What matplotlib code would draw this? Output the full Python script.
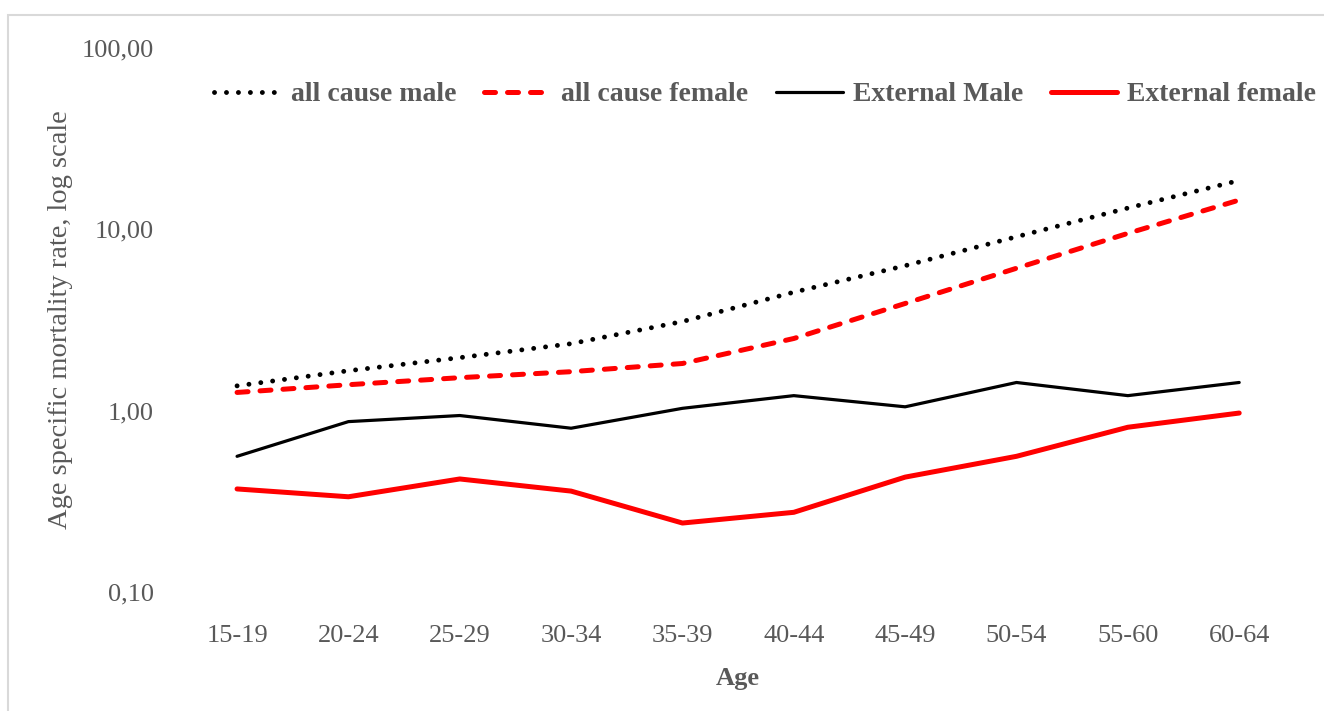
import matplotlib
matplotlib.use("Agg")
import matplotlib.pyplot as plt
from matplotlib.patches import Rectangle
from matplotlib.ticker import FuncFormatter, NullLocator
import numpy as np

plt.rcParams["font.family"] = ["Liberation Serif", "DejaVu Serif"]

ages = ["15-19", "20-24", "25-29", "30-34", "35-39",
        "40-44", "45-49", "50-54", "55-60", "60-64"]
all_cause_male = [1.37, 1.66, 1.96, 2.34, 3.1, 4.5, 6.3, 9.1, 13.1, 18.6]
all_cause_female = [1.26, 1.39, 1.52, 1.64, 1.82, 2.5, 3.9, 6.1, 9.5, 14.5]
external_male = [0.56, 0.87, 0.94, 0.80, 1.03, 1.21, 1.05, 1.43, 1.21, 1.43]
external_female = [0.37, 0.335, 0.42, 0.36, 0.24, 0.275, 0.43, 0.56, 0.81, 0.97]

text_grey = "#595959"

fig = plt.figure(figsize=(13.24, 7.11), dpi=100)
ax = fig.add_axes([0.137, 0.1674, 0.841, 0.7651])

x = np.arange(len(ages))
ax.plot(x, all_cause_male, color="black", lw=3.5, linestyle=(0, (0.01, 2.45)),
        dash_capstyle="round", label="all cause male")
ax.plot(x, all_cause_female, color="#ff0000", lw=3.6, linestyle=(0, (2.2, 2.4)),
        dash_capstyle="round", label="all cause female")
ax.plot(x, external_male, color="black", lw=2.3, solid_capstyle="round",
        label="External Male")
ax.plot(x, external_female, color="#ff0000", lw=3.6, solid_capstyle="round",
        label="External female")

ax.set_yscale("log")
ax.set_ylim(0.1, 100)
ax.set_yticks([0.1, 1, 10, 100])
ax.yaxis.set_minor_locator(NullLocator())
ax.yaxis.set_major_formatter(FuncFormatter(lambda v, _: f"{v:.2f}".replace(".", ",")))
ax.set_xlim(-0.5, len(ages) - 0.5)
ax.set_xticks(x)
ax.set_xticklabels(ages)

for s in ax.spines.values():
    s.set_visible(False)
ax.tick_params(axis="both", length=0, labelsize=19, colors=text_grey)
ax.tick_params(axis="y", pad=20)
ax.tick_params(axis="x", pad=24)

ax.set_xlabel("Age", fontsize=19, fontweight="bold", color=text_grey, labelpad=14)
ax.set_ylabel("Age specific mortality rate, log scale", fontsize=20.5,
              color=text_grey, labelpad=6)

leg = fig.legend(loc="center", bbox_to_anchor=(0.578, 0.867), ncol=4, frameon=False,
                 prop={"size": 20, "weight": "bold"}, handlelength=2.4,
                 handletextpad=0.36, columnspacing=1.0)
for t in leg.get_texts():
    t.set_color(text_grey)

fig.patches.append(Rectangle((8 / 1324, -0.1), 1.2, 1 - 15 / 711 + 0.1,
                             transform=fig.transFigure, fill=False,
                             edgecolor="#d9d9d9", lw=1.5))

fig.savefig("out.png", dpi=100)
